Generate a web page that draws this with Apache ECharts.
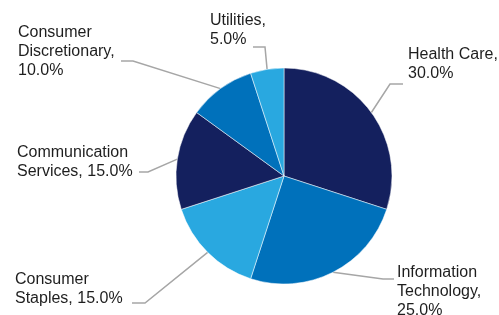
<!DOCTYPE html>
<html>
<head>
<meta charset="utf-8">
<script src="https://cdn.jsdelivr.net/npm/echarts@6/dist/echarts.min.js"></script>
<style>
    html, body { margin: 0; padding: 0; background: #fff; }
    #chart { width: 499px; height: 315px; }
</style>
</head>
<body>
<div id="chart"></div>
<script>
/*
|--------------------------------------------------------------------------
| Data
|--------------------------------------------------------------------------
*/

const sectors = ['Health Care', 'Information Technology', 'Consumer Staples', 'Communication Services', 'Consumer Discretionary', 'Utilities'];
const weights = [30.0, 25.0, 15.0, 15.0, 10.0, 5.0];

/*
|--------------------------------------------------------------------------
| Styles
|--------------------------------------------------------------------------
*/

const sliceColors = ['#14205e', '#0071bb', '#29a8e0', '#14205e', '#0071bb', '#29a8e0'];

// Label text block (top-left), leader line end and the short horizontal run
const labelSpots = [
    { x: 408, y: 45, ex: 403, ey: 84, run: 13, breakName: false, valueInline: false },
    { x: 397, y: 263, ex: 394, ey: 279, run: 11, breakName: true, valueInline: false },
    { x: 15, y: 270, ex: 132, ey: 303, run: 13, breakName: true, valueInline: true },
    { x: 17, y: 143, ex: 139, ey: 172, run: 9, breakName: true, valueInline: true },
    { x: 18, y: 23, ex: 121, ey: 61, run: 12, breakName: true, valueInline: false },
    { x: 210, y: 11, ex: 253, ey: 47, run: -12, breakName: false, valueInline: false },
];

/*
|--------------------------------------------------------------------------
| Chart
|--------------------------------------------------------------------------
*/

function labelText(index) {
    const spot = labelSpots[index];
    const name = spot.breakName ? sectors[index].replace(' ', '\n') : sectors[index];
    const value = weights[index].toFixed(1) + '%';
    return name + ',' + (spot.valueInline ? ' ' : '\n') + value;
}

function initializeSectorPie() {
    const chart = echarts.init(document.getElementById('chart'), null, { renderer: 'canvas' });

    chart.setOption({
        animation: false,
        series: [{
            type: 'pie',
            center: [284, 176],
            radius: 108,
            startAngle: 90,
            clockwise: true,
            avoidLabelOverlap: false,
            itemStyle: { borderColor: '#ffffff', borderWidth: 0.5 },
            label: {
                show: true,
                position: 'outside',
                fontFamily: 'Liberation Sans, Arial, sans-serif',
                fontSize: 16,
                lineHeight: 19,
                color: '#1e1e1e',
                formatter: params => labelText(params.dataIndex),
            },
            labelLine: {
                show: true,
                lineStyle: { color: '#a6a6a6', width: 1.5 },
            },
            labelLayout: params => {
                const spot = labelSpots[params.dataIndex];
                const start = params.labelLinePoints ? params.labelLinePoints[0] : [spot.ex, spot.ey];
                const side = spot.ex > 284 ? -1 : 1;
                const run = Math.abs(spot.run) * (spot.run < 0 ? 1 : side);
                return {
                    x: spot.x,
                    y: spot.y,
                    align: 'left',
                    verticalAlign: 'top',
                    labelLinePoints: [start, [spot.ex + run, spot.ey], [spot.ex, spot.ey]],
                };
            },
            data: sectors.map((name, i) => ({
                name,
                value: weights[i],
                itemStyle: { color: sliceColors[i] },
            })),
        }],
    });
}

initializeSectorPie();
</script>
</body>
</html>
